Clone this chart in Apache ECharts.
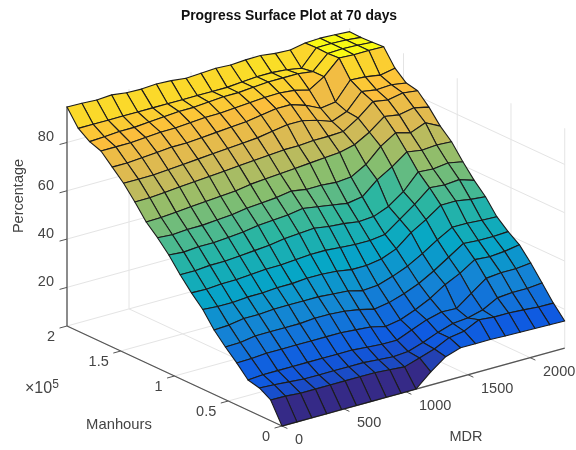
<!DOCTYPE html>
<html>
<head>
<meta charset="utf-8">
<style>html,body{margin:0;padding:0;background:#fff}#c{width:576px;height:450px}</style>
<script src="https://cdn.jsdelivr.net/npm/echarts@6/dist/echarts.min.js"></script>
</head>
<body>
<div id="c"></div>
<script>
const titleText = 'Progress Surface Plot at 70 days';
const mdrValues = [0,120,240,360,480,600,720,840,960,1080,1200,1320,1440,1560,1680,1800,1920,2040,2160,2280];
const manhourValues = [0,0.1053,0.2105,0.3158,0.4211,0.5263,0.6316,0.7368,0.8421,0.9474,1.0526,1.1579,1.2632,1.3684,1.4737,1.5789,1.6842,1.7895,1.8947,2];
const percentRows = [
[4,4,4,4,4,4,4,4,4,4,9.4,14,16,16,16,15.8,15.6,15.5,15.3,15.2],
[12.6,12.5,12,12,12,12,12,12,11.5,11,13,15,18,19,22,21.4,21.4,21,20.5,20.4],
[15.4,15,14.5,14,14,14,14,14,13.5,13,13.5,15.5,18,20,20.6,22.2,25.5,26,26,26.6],
[16.5,17,17,17,17,17,17,17,16.5,16,16,18.5,21,22.6,22.3,26.9,31.4,32,32,32.7],
[21.4,21.5,22,22,22,22,22,22,21.5,21,19.5,20.6,23,26,30,33,37,36.5,37,38],
[25.8,26,27,27,27,27,27.5,27.5,27,26,24.5,25.5,27.5,30,33.5,37.5,41.5,41,41,41.3],
[30.7,31,32,32,32.5,32.5,32.5,32.5,32,31.5,30,30.5,32.5,35,38.5,42.5,46,46,45.5,45.3],
[37,36.5,36.5,37,37,37.5,37.5,38,38,37.5,36.5,36.5,37.5,40,45,48.7,53,53,52,51.4],
[41.7,41.5,42,42,42.5,43,43,43.5,44,44,43.5,43,43,43.8,48.3,52.8,58,57.5,58,56],
[47,47,47.5,47.5,48,48.5,49,50,50.5,51,50,49.5,48.6,49,51.5,55.9,62.4,61.9,62.7,61.5],
[53,52.5,53,53,53.5,54,55,55.5,56,57,56,55,54,55,60.3,64,68.5,67.5,68,67.6],
[58,57.5,58,58,58.5,59,60,60.5,61,62,61,61,60.5,61,64.5,70.3,74.2,72.5,75,71.9],
[62.3,62.5,63,63.5,64,64.5,65,66,66.5,67,67.5,68,68.5,69,70.5,74,78.8,77.8,79,77.6],
[68.4,68.5,69,69.5,70,70.5,71,71.5,72,72.5,73,73,73.5,73.5,73.8,77.7,82.8,81.8,83,82.2],
[74,74,74,74.5,75,75.5,76,76.5,77,77.5,78.5,79.5,79.5,78,75.8,78.2,84.8,83.8,84.2,83.2],
[78.5,78.5,79,79.5,80,80,80.5,81,81.5,82,83,84,84,82,79.1,80,87.4,87,86,87.2],
[83,83,83,83.5,84,84,84.5,85,85,85.5,86,86.5,86.6,86,84.5,88.3,94.3,94,94,93.9],
[84.7,85,85.5,85.5,86,86.5,87,87,87.5,88,88,88.5,89,89,89,88.2,94,94.3,94,93.6],
[88,88,88,88,88,88,88,88,88,88,88,88.5,89,89,88.5,87.4,94.2,94.3,94,93.4],
[94.7,94.5,94.2,94.6,93.8,93.6,94,93.7,93,93.4,93.7,93.4,93.8,93.9,93.1,92.8,94,94.3,94,93.6]
];
const mdrTicks = [0,500,1000,1500,2000];
const manhourTicks = [0,0.5,1,1.5,2];
const percentTicks = [20,40,60,80];
const parulaStops = [[53,42,135],[15,90,225],[20,133,212],[6,167,198],[45,182,160],[135,190,110],[215,185,85],[252,190,60],[249,251,20]];

const zMin = 4, zMax = 95, mdrMax = 2280, mhMax = 2;
const AX = '#555555', TXT = '#444444', GRID = '#e4e4e4', FONT = 'Liberation Sans, Arial, sans-serif';

function project(u, v, z) {
  return [282 + 0.124 * u - 107.5 * v, 426 - 0.0342 * u - 50 * v - 2.415 * (z - zMin)];
}
function parula(t) {
  t = Math.max(0, Math.min(1, t)) * (parulaStops.length - 1);
  const k = Math.min(Math.floor(t), parulaStops.length - 2), f = t - k;
  const c = parulaStops[k].map((a, n) => Math.round(a + (parulaStops[k + 1][n] - a) * f));
  return 'rgb(' + c.join(',') + ')';
}
const cells = [];
for (let j = 0; j < manhourValues.length - 1; j++) for (let i = 0; i < mdrValues.length - 1; i++) cells.push([i, j]);
cells.sort((a, b) => (b[0] + b[1]) - (a[0] + a[1]));

const guideLines = [];
percentTicks.forEach(z => {
  guideLines.push([0, mhMax, z, mdrMax, mhMax, z]);
  guideLines.push([mdrMax, mhMax, z, mdrMax, 0, z]);
});
mdrTicks.forEach(u => {
  guideLines.push([u, 0, zMin, u, mhMax, zMin]);
  guideLines.push([u, mhMax, zMin, u, mhMax, zMax]);
});
manhourTicks.forEach(v => {
  guideLines.push([0, v, zMin, mdrMax, v, zMin]);
  guideLines.push([mdrMax, v, zMin, mdrMax, v, zMax]);
});

const axisLines = [
  [0, 0, zMin, mdrMax, 0, zMin],
  [0, 0, zMin, 0, mhMax, zMin],
  [0, mhMax, zMin, 0, mhMax, zMax]
];
const tickLines = [];
mdrTicks.forEach(u => tickLines.push([u, 0, zMin, u, -0.05, zMin]));
manhourTicks.forEach(v => tickLines.push([0, v, zMin, -60, v, zMin]));
percentTicks.forEach(z => tickLines.push([0, mhMax, z, -60, mhMax, z]));

const labels = [];
mdrTicks.forEach(u => { const p = project(u, 0, zMin); labels.push({ t: String(u), x: p[0] + 13, y: p[1] + 14, a: 'left', s: 14.5 }); });
manhourTicks.forEach(v => { const p = project(0, v, zMin); labels.push({ t: String(v), x: p[0] - 12, y: p[1] + 11, a: 'right', s: 14.5 }); });
percentTicks.forEach(z => { const p = project(0, mhMax, z); labels.push({ t: String(z), x: p[0] - 13, y: p[1] - 5, a: 'right', s: 14.5 }); });
labels.push({ t: 'Manhours', x: 119, y: 425, a: 'center', s: 14.8 });
labels.push({ t: 'MDR', x: 466, y: 437, a: 'center', s: 14.5 });
labels.push({ t: 'Percentage', x: 19, y: 196, a: 'center', r: Math.PI / 2, s: 14.5 });

function lineSeries(rows, color, width) {
  return {
    type: 'custom', coordinateSystem: 'cartesian2d', silent: true, animation: false, clip: false,
    data: rows,
    renderItem: function (p, api) {
      const r = rows[p.dataIndex];
      const a = api.coord(project(r[0], r[1], r[2])), b = api.coord(project(r[3], r[4], r[5]));
      return { type: 'line', shape: { x1: a[0], y1: a[1], x2: b[0], y2: b[1] }, style: { stroke: color, lineWidth: width } };
    }
  };
}
const option = {
  animation: false,
  backgroundColor: '#fff',
  title: { text: titleText, left: 284, top: 4, textAlign: 'center', textStyle: { fontFamily: FONT, fontWeight: 'bold', fontSize: 13.9, color: '#111' } },
  grid: { left: 0, right: 0, top: 0, bottom: 0 },
  xAxis: { type: 'value', min: 0, max: 576, show: false },
  yAxis: { type: 'value', min: 0, max: 450, inverse: true, show: false },
  series: [
    lineSeries(guideLines, GRID, 1),
    lineSeries(axisLines, AX, 1.3),
    lineSeries(tickLines, AX, 1),
    {
      type: 'custom', coordinateSystem: 'cartesian2d', silent: true, animation: false, clip: false,
      data: cells,
      renderItem: function (p, api) {
        const c = cells[p.dataIndex], i = c[0], j = c[1];
        const pts = [[i, j], [i + 1, j], [i + 1, j + 1], [i, j + 1]].map(q =>
          api.coord(project(mdrValues[q[0]], manhourValues[q[1]], percentRows[q[1]][q[0]])));
        return { type: 'polygon', shape: { points: pts }, style: {
          fill: parula((percentRows[j][i] - zMin) / (94.3 - zMin)), stroke: '#1c1c1c', lineWidth: 1.1, lineJoin: 'round' } };
      }
    },
    {
      type: 'custom', coordinateSystem: 'cartesian2d', silent: true, animation: false, clip: false,
      data: labels,
      renderItem: function (p, api) {
        const l = labels[p.dataIndex], q = api.coord([l.x, l.y]);
        return { type: 'text', x: q[0], y: q[1], rotation: l.r || 0, style: {
          text: l.t, fill: TXT, font: l.s + 'px ' + FONT, align: l.a, verticalAlign: 'middle' } };
      }
    },
    {
      type: 'custom', coordinateSystem: 'cartesian2d', silent: true, animation: false, clip: false,
      data: [['×10', '5']],
      renderItem: function (p, api) {
        const q = api.coord([25, 389]);
        return { type: 'text', x: q[0], y: q[1], style: {
          text: '×10{s|5}', fill: TXT, font: '16px ' + FONT, align: 'left', verticalAlign: 'middle',
          rich: { s: { fontSize: 12, fontFamily: FONT, fill: TXT, verticalAlign: 'top', padding: [0, 0, 8, 0] } } } };
      }
    }
  ]
};
echarts.init(document.getElementById('c'), null, { renderer: 'canvas' }).setOption(option);
</script>
</body>
</html>
